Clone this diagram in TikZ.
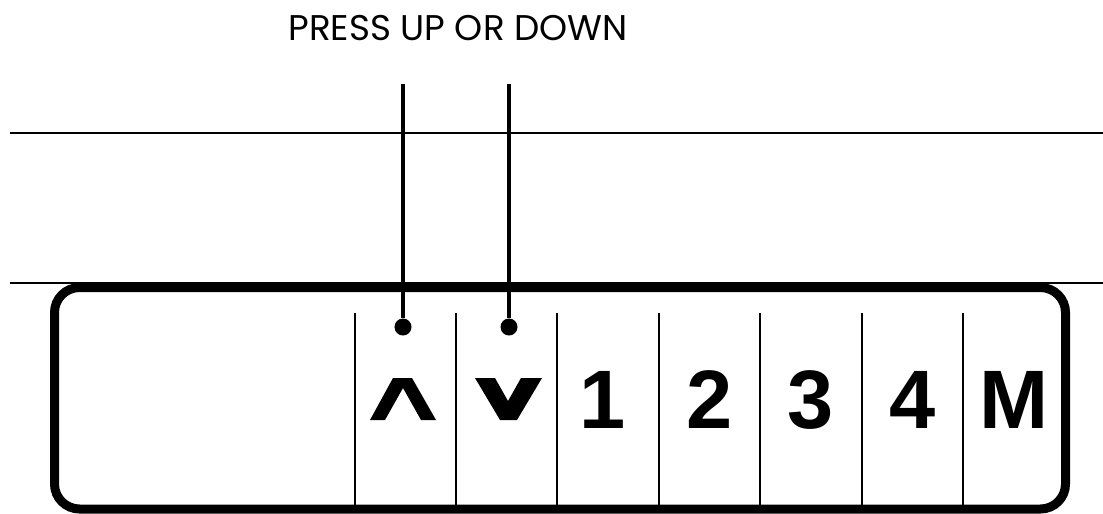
\documentclass[tikz,border=0pt]{standalone}
\usepackage{fontspec}
\newfontfamily\titolofont{Poppins}
\newfontfamily\tastifont{Liberation Sans}
\begin{document}
\begin{tikzpicture}[x=0.025cm,y=-0.025cm,
    bordo/.style={line width=6.4pt,rounded corners=17.8pt},
    bordino/.style={line width=1.1pt},
    sep/.style={line width=1.4pt},
    filo/.style={line width=2.9pt},
    punto/.style={circle,fill,inner sep=0pt,minimum size=12.1pt},
    tasto/.style={inner sep=0pt,font=\tastifont\bfseries\fontsize{59}{62}\selectfont},
    titolo/.style={inner sep=0pt,font=\titolofont\fontsize{25.4}{28}\selectfont}]
  \useasboundingbox (0,0) rectangle (1103,513);

  % ---- scritta ---------------------------------------------------------------
  \node[titolo] (tit) at (458,28.5) {PRESS UP OR DOWN};

  % ---- bordi del piano -------------------------------------------------------
  \draw[bordino] (10,133) -- (1103,133);
  \draw[bordino] (10,283) -- (1103,283);

  % ---- pulsantiera -----------------------------------------------------------
  \draw[bordo] (54.5,287.5) rectangle (1065.5,509);
  \foreach \x in {355,456,557,659,760,862,963}
    \draw[sep] (\x,313) -- (\x,505);

  % ---- tasti -----------------------------------------------------------------
  \node[tasto] (t1) at (603,400)  {1};
  \node[tasto] (t2) at (709.5,400) {2};
  \node[tasto] (t3) at (811,400)  {3};
  \node[tasto] (t4) at (912.5,400) {4};
  \node[tasto] (tm) at (1014,400) {M};
  \fill (370,420) -- (393,378) -- (412,378) -- (436,420) -- (421,420)
        -- (403,388) -- (385,420) -- cycle;
  \fill (475,378) -- (495,378) -- (508,401) -- (521,378) -- (542,378)
        -- (517,420) -- (500,420) -- cycle;

  % ---- richiami --------------------------------------------------------------
  \node[punto] (psu) at (403,327) {};
  \node[punto] (pgiu) at (509,327) {};
  \coordinate (csu) at (403,84);
  \coordinate (cgiu) at (509,84);
  \draw[filo] (csu) -- (psu);
  \draw[filo] (cgiu) -- (pgiu);
\end{tikzpicture}
\end{document}
